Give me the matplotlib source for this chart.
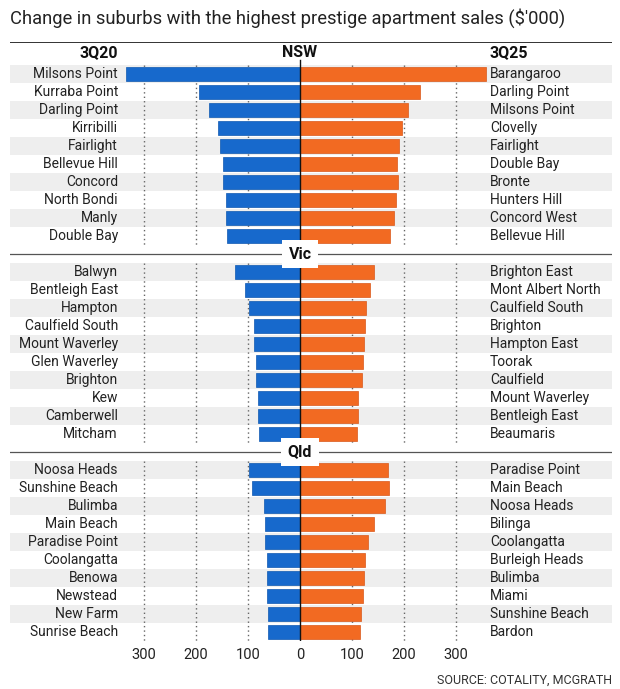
import matplotlib

matplotlib.use("Agg")

import matplotlib.pyplot as plt
import numpy as np
from matplotlib.ticker import FuncFormatter

plt.rcParams["font.family"] = ["Roboto", "DejaVu Sans"]

# data ($'000)
SECTIONS = ["NSW", "Vic", "Qld"]

NSW_3Q20 = ["Milsons Point", "Kurraba Point", "Darling Point", "Kirribilli", "Fairlight",
            "Bellevue Hill", "Concord", "North Bondi", "Manly", "Double Bay"]
NSW_3Q20_VALUES = [334, 195, 175, 158, 154, 149, 148, 142, 143, 141]
NSW_3Q25 = ["Barangaroo", "Darling Point", "Milsons Point", "Clovelly", "Fairlight",
            "Double Bay", "Bronte", "Hunters Hill", "Concord West", "Bellevue Hill"]
NSW_3Q25_VALUES = [358, 231, 207, 196, 191, 186, 188, 185, 180, 173]

VIC_3Q20 = ["Balwyn", "Bentleigh East", "Hampton", "Caulfield South", "Mount Waverley",
            "Glen Waverley", "Brighton", "Kew", "Camberwell", "Mitcham"]
VIC_3Q20_VALUES = [126, 105, 98, 89, 89, 85, 85, 80, 80, 78]
VIC_3Q25 = ["Brighton East", "Mont Albert North", "Caulfield South", "Brighton", "Hampton East",
            "Toorak", "Caulfield", "Mount Waverley", "Bentleigh East", "Beaumaris"]
VIC_3Q25_VALUES = [143, 134, 127, 126, 123, 121, 119, 112, 112, 110]

QLD_3Q20 = ["Noosa Heads", "Sunshine Beach", "Bulimba", "Main Beach", "Paradise Point",
            "Coolangatta", "Benowa", "Newstead", "New Farm", "Sunrise Beach"]
QLD_3Q20_VALUES = [98, 93, 70, 68, 67, 64, 64, 64, 62, 61]
QLD_3Q25 = ["Paradise Point", "Main Beach", "Noosa Heads", "Bilinga", "Coolangatta",
            "Burleigh Heads", "Bulimba", "Miami", "Sunshine Beach", "Bardon"]
QLD_3Q25_VALUES = [170, 171, 164, 142, 131, 125, 123, 121, 118, 116]

TICKS = [-300, -200, -100, 0, 100, 200, 300]

BLUE = "#1769cc"
ORANGE = "#f26a22"
STRIPE = "#eeeeee"

sections = [
    (NSW_3Q20, NSW_3Q20_VALUES, NSW_3Q25, NSW_3Q25_VALUES),
    (VIC_3Q20, VIC_3Q20_VALUES, VIC_3Q25, VIC_3Q25_VALUES),
    (QLD_3Q20, QLD_3Q20_VALUES, QLD_3Q25, QLD_3Q25_VALUES),
]

W, H = 620, 689
fig = plt.figure(figsize=(W / 100, H / 100), dpi=100)
ax = fig.add_axes([10 / W, 1 - 641 / H, 602 / W, (641 - 42) / H])

# pixel scale: 0 at x=300, 100 units ~ 52 px
scale = 0.5195
xmin, xmax = (10 - 300) / scale, (612 - 300) / scale
ax.set_xlim(xmin, xmax)
ax.set_ylim(31.5, -1.78)

left_label_x = (118 - 300) / scale
right_label_x = (490 - 300) / scale
name_fs = 10

row = 0
for sec_idx, (lnames, lvals, rnames, rvals) in enumerate(sections):
    ys = np.arange(row, row + len(lnames))
    for i, y in enumerate(ys):
        if i % 2 == 0:
            ax.axhspan(y - 0.5, y + 0.5, color=STRIPE, lw=0, zorder=0)
    for gx in TICKS:
        if gx == 0:
            continue
        ax.plot([gx, gx], [ys[0] - 0.5, ys[-1] + 0.55], ls=(0, (1, 2.2)), color="#666666",
                lw=1.0, zorder=1)
    ax.barh(ys, -np.array(lvals), height=0.74, color=BLUE, edgecolor="#0f58b0",
            linewidth=0.5, zorder=2)
    ax.barh(ys, rvals, height=0.74, color=ORANGE, edgecolor="#d9581a",
            linewidth=0.5, zorder=2)
    for y, ln, rn in zip(ys, lnames, rnames):
        ax.text(left_label_x, y, ln, ha="right", va="center", fontsize=name_fs,
                color="#222222", zorder=3)
        ax.text(right_label_x, y, rn, ha="left", va="center", fontsize=name_fs,
                color="#222222", zorder=3)
    if sec_idx > 0:
        hy = row - 1
        ax.axhline(hy, color="#555555", lw=0.9, zorder=3)
        ax.text(0, hy, SECTIONS[sec_idx], ha="center", va="center", fontsize=11.5,
                fontweight="bold", color="#111111", zorder=5,
                bbox=dict(facecolor="white", edgecolor="none", pad=5))
    row += len(lnames) + 1

# centre line
ax.plot([0, 0], [-0.78, 31.5], color="#111111", lw=1.0, zorder=4)

# header row
ax.text(0, -1.22, SECTIONS[0], ha="center", va="center", fontsize=11.5,
        fontweight="bold", color="#111111")
ax.text(left_label_x, -1.22, "3Q20", ha="right", va="center", fontsize=11.5,
        fontweight="bold", color="#111111")
ax.text(right_label_x, -1.22, "3Q25", ha="left", va="center", fontsize=11.5,
        fontweight="bold", color="#111111")
ax.axhline(-1.78, color="#111111", lw=1.2, zorder=3)

ax.set_xticks(TICKS)
ax.xaxis.set_major_formatter(FuncFormatter(lambda v, _: f"{abs(v):g}"))
ax.tick_params(axis="x", length=0, pad=5, labelsize=10.5, labelcolor="#222222")
ax.set_yticks([])
for s in ax.spines.values():
    s.set_visible(False)

fig.text(10 / W, 1 - 18 / H, "Change in suburbs with the highest prestige apartment sales ($'000)",
         ha="left", va="center", fontsize=13.2, color="#222222")
fig.text(612 / W, 1 - 680 / H, "SOURCE: COTALITY, MCGRATH", ha="right", va="center",
         fontsize=9, color="#333333")

fig.savefig("out.png", dpi=100)
